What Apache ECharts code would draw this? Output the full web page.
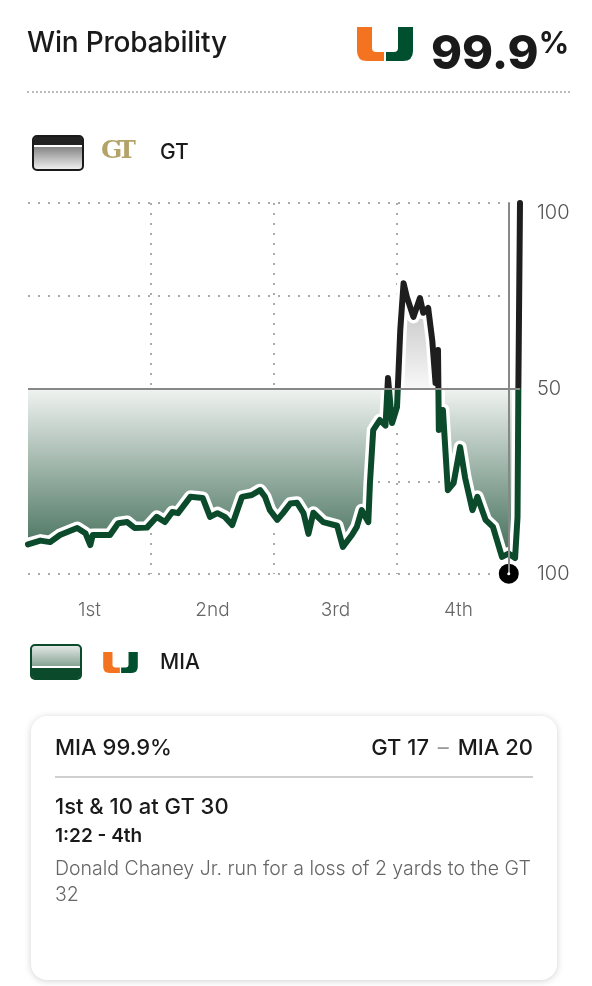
<!DOCTYPE html>
<html>
<head>
<meta charset="utf-8">
<script src="https://cdn.jsdelivr.net/npm/echarts@6/dist/echarts.min.js"></script>
<style>
  html, body { margin: 0; padding: 0; background: #fff; }
  body { width: 592px; height: 986px; position: relative; overflow: hidden; font-family: Inter, Roboto, sans-serif; color: #1a1a1a; }
  #chart { position: absolute; left: 0; top: 0; width: 592px; height: 986px; }
  .abs { position: absolute; white-space: nowrap; }
  .title { left: 27px; top: 25px; font-size: 28px; font-weight: 500; line-height: 34px; letter-spacing: -0.2px; }
  .big { left: 431px; top: 15px; font-size: 47px; font-weight: 800; line-height: 54px; letter-spacing: 0; }
  .big sup { font-size: 30px; font-weight: 700; vertical-align: 16px; margin-left: 0; }
  .rule { left: 27px; top: 91px; width: 543px; border-top: 2px dotted #bbb; }
  .swatch { position: absolute; box-sizing: border-box; width: 52px; height: 36px; border-radius: 5px; overflow: hidden; }
  .teamtxt { font-size: 21px; font-weight: 500; line-height: 24px; }
  .card { position: absolute; left: 31px; top: 716px; width: 526px; height: 264px; border-radius: 16px; background: #fff; box-shadow: 0 1px 7px rgba(0,0,0,0.18); }
  .card .row1 { position: absolute; left: 24px; right: 24px; top: 17px; font-size: 22px; font-weight: 500; line-height: 28px; }
  .card .row1 .r { position: absolute; right: 0; top: 0; }
  .card .dash { color: #999; font-weight: 400; margin: 0 3px; }
  .card .div { position: absolute; left: 24px; right: 24px; top: 60px; border-top: 2px solid #d0d0d0; }
  .card .down { position: absolute; left: 24px; top: 76px; font-size: 22px; font-weight: 500; line-height: 28px; }
  .card .clock { position: absolute; left: 24px; top: 108px; font-size: 19px; font-weight: 600; line-height: 24px; }
  .card .desc { position: absolute; left: 24px; width: 486px; top: 139px; font-size: 19.5px; font-weight: 300; line-height: 26px; color: #666; white-space: normal; }
</style>
</head>
<body>
<div id="chart"></div>

<div class="abs title">Win Probability</div>
<svg class="abs" style="left:357px;top:27px" width="56" height="34" viewBox="0 0 56 34">
  <path d="M0,0 H15 V21 Q15,25 19,25 H27 V34 H10 Q0,34 0,24 Z" fill="#f47321"/>
  <path d="M56,0 H41 V21 Q41,25 37,25 H29 V34 H46 Q56,34 56,24 Z" fill="#005030"/>
</svg>
<div class="abs big">99.9<sup>%</sup></div>
<div class="abs rule"></div>

<div class="swatch" style="left:32px;top:135px;border:2px solid #1a1a1a;background:linear-gradient(#555,#eee);">
  <div style="height:8px;background:#222;border-bottom:2px solid #fff;"></div>
</div>
<div class="abs" style="left:101px;top:135px;font-family:'DejaVu Serif',serif;font-weight:bold;font-size:25px;color:#b3a369;letter-spacing:-5px;line-height:30px;">GT</div>
<div class="abs teamtxt" style="left:160px;top:140px;">GT</div>

<div class="swatch" style="left:30px;top:644px;border:2px solid #0b4a2b;background:linear-gradient(#e3e8e5,#4e7a64);">
  <div style="position:absolute;left:0;right:0;bottom:0;height:10px;background:#0b4a2b;border-top:2px solid #fff;"></div>
</div>
<svg class="abs" style="left:102px;top:652px" width="37" height="21" viewBox="0 0 56 34">
  <path d="M0,0 H15 V21 Q15,25 19,25 H27 V34 H10 Q0,34 0,24 Z" fill="#f47321"/>
  <path d="M56,0 H41 V21 Q41,25 37,25 H29 V34 H46 Q56,34 56,24 Z" fill="#005030"/>
</svg>
<div class="abs teamtxt" style="left:160px;top:650px;">MIA</div>

<div class="card">
  <div class="row1">MIA 99.9%<span class="r">GT 17 <span class="dash">–</span> MIA 20</span></div>
  <div class="div"></div>
  <div class="down">1st &amp; 10 at GT 30</div>
  <div class="clock">1:22 - 4th</div>
  <div class="desc">Donald Chaney Jr. run for a loss of 2 yards to the GT 32</div>
</div>

<script>
// game minutes elapsed (0-60) and GT win probability (%)
const minutes = [0, 1.5, 2.7, 3.9, 6.0, 7.0, 7.6, 7.9, 10.0, 11.0, 12.1, 13.0, 14.5,
  15.7, 16.7, 17.6, 18.3, 19.8, 21.3, 22.2, 23.1, 24.0, 24.9, 26.1, 27.3, 28.3, 28.9, 29.5,
  30.4, 31.1, 32.0, 32.8, 33.6, 34.2, 34.8, 36.0, 37.7, 38.4, 39.5, 40.1, 40.7, 41.5, 41.7,
  42.1, 42.9, 43.6, 43.9, 44.4, 45.0, 45.4, 45.8, 46.2, 47.0, 47.8, 48.2, 48.8, 49.3, 49.7,
  50.0, 50.1, 50.6, 51.2, 51.9, 52.7, 53.3, 54.2, 54.8, 55.8, 56.7, 57.8, 58.6, 59.4, 59.7, 59.8, 60.0];
const gtProb = [8, 9, 8.6, 10.5, 12.4, 11, 7.8, 10.5, 10.5, 13.7, 14, 12.4, 12.5,
  15.4, 14, 16.7, 16.4, 20.8, 20.5, 15.4, 16.4, 15.4, 13.2, 20.8, 21.3, 22.6, 20.8, 17.2,
  14.6, 16.4, 19, 19.2, 16.4, 10.8, 16.5, 14, 13, 7.3, 10.5, 12.7, 17.2, 14, 24.5,
  38.8, 41.5, 40, 52.8, 40.7, 45, 65.8, 78.4, 74.7, 69.3, 74.4, 70.4, 71.7, 63, 51.5,
  60.4, 38.8, 44.2, 22.6, 24.5, 34.2, 26, 17.2, 20.8, 14.6, 12.7, 4.6, 5.5, 4.3, 15.4, 50, 100];

const quarterLabels = ["1st", "2nd", "3rd", "4th"];
const yTickValues = [0, 50, 100];
const yTickText = ["100", "50", "100"];

// current play: 1:22 left in the 4th
const currentMinute = 58.63;
const currentProb = 0.1;

const points = minutes.map((m, i) => [m, gtProb[i]]);

const myChart = echarts.init(document.getElementById("chart"));

const fillGradient = new echarts.graphic.LinearGradient(0, 203, 0, 574, [
  { offset: 0, color: "#8c8c8c" },
  { offset: 0.5, color: "#f8f8f8" },
  { offset: 0.5, color: "#f0f3f1" },
  { offset: 1, color: "#2f5f48" },
], true);

const labelFont = { fontSize: 20, color: "#555", fontFamily: "Inter, Roboto, sans-serif", fontWeight: 300 };

const option = {
  animation: false,
  grid: { left: 28, right: 72, top: 203, bottom: 412 },
  xAxis: [
    {
      type: "value",
      min: 0,
      max: 60,
      interval: 15,
      axisLine: { show: false },
      axisTick: { show: false },
      axisLabel: { show: false },
      splitLine: {
        show: true,
        showMinLine: false,
        showMaxLine: false,
        lineStyle: { type: [2, 8], width: 2, color: "#aaa" },
      },
    },
    {
      type: "category",
      position: "bottom",
      data: quarterLabels,
      axisLine: { show: false },
      axisTick: { show: false },
      splitLine: { show: false },
      axisLabel: Object.assign({ margin: 27 }, labelFont, { fontSize: 19, color: "#666" }),
    },
  ],
  yAxis: {
    type: "value",
    position: "right",
    min: 0,
    max: 100,
    interval: 25,
    axisLine: { show: false },
    axisTick: { show: false },
    splitLine: {
      show: true,
      lineStyle: { type: [2, 8], width: 2, color: "#aaa" },
    },
    axisLabel: Object.assign({
      margin: 17,
      formatter: (v) => {
        const i = yTickValues.indexOf(v);
        if (i < 0) return "";
        return v === 100 ? "{top|" + yTickText[i] + "}" : yTickText[i];
      },
      rich: {
        top: Object.assign({ padding: [20, 0, 0, 0] }, labelFont),
      },
    }, labelFont),
  },
  visualMap: {
    show: false,
    type: "piecewise",
    seriesIndex: 1,
    dimension: 1,
    pieces: [
      { gte: 0, lt: 50, color: "#0b4a2b" },
      { gte: 50, lte: 100, color: "#1e1e1e" },
    ],
    outOfRange: { color: "#1e1e1e" },
  },
  series: [
    {
      type: "line",
      z: 2,
      data: points,
      symbol: "none",
      silent: true,
      lineStyle: { color: "#fff", width: 13, cap: "round", join: "round" },
      areaStyle: { origin: 50, color: fillGradient, opacity: 1 },
      markLine: {
        silent: true,
        symbol: "none",
        label: { show: false },
        lineStyle: { color: "#888", width: 2, type: "solid" },
        data: [{ yAxis: 50 }, { xAxis: currentMinute }],
      },
    },
    {
      type: "line",
      z: 3,
      data: points,
      symbol: "none",
      silent: true,
      lineStyle: { width: 6, cap: "round", join: "round" },
    },
    {
      type: "scatter",
      z: 4,
      silent: true,
      data: [[currentMinute, currentProb]],
      symbolSize: 23,
      itemStyle: { color: "#000", borderColor: "#fff", borderWidth: 3, opacity: 1 },
    },
    {
      type: "scatter",
      z: 5,
      silent: true,
      data: [[currentMinute, currentProb]],
      symbolSize: 3,
      itemStyle: { color: "#fff", opacity: 1 },
    },
  ],
};

option && myChart.setOption(option);
</script>
</body>
</html>
